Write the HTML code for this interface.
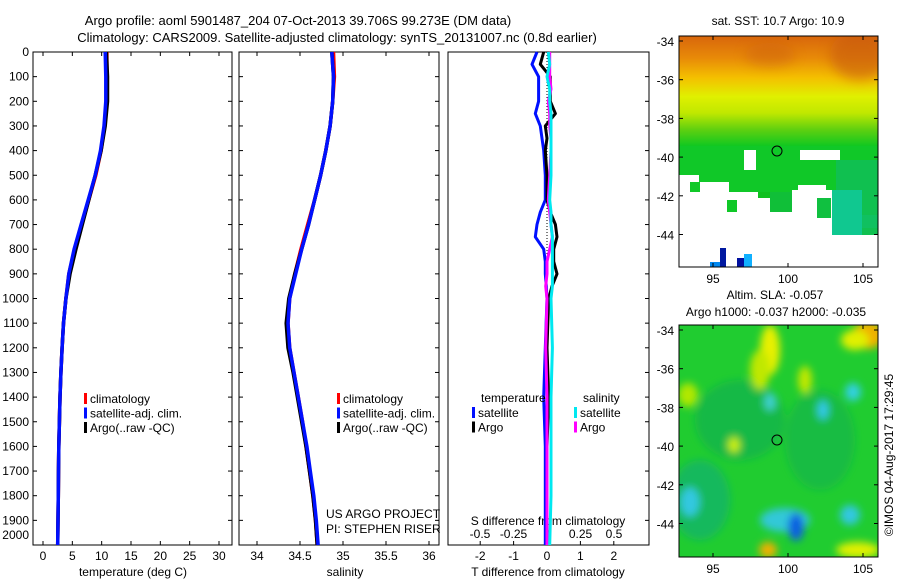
<!DOCTYPE html>
<html><head><meta charset="utf-8"><style>
html,body{margin:0;padding:0;background:#fff;}
svg{display:block;font-family:"Liberation Sans",sans-serif;font-size:12px;}
</style></head><body>
<svg id="c" width="900" height="580" viewBox="0 0 900 580">
<defs>
<filter id="bl" x="-50%" y="-50%" width="200%" height="200%"><feGaussianBlur stdDeviation="4"/></filter>
<filter id="bl2" x="-50%" y="-50%" width="200%" height="200%"><feGaussianBlur stdDeviation="6"/></filter>
<clipPath id="m1"><rect x="679" y="36" width="199" height="231"/></clipPath>
<clipPath id="m2"><rect x="679" y="325" width="199" height="232"/></clipPath>
<linearGradient id="g1" x1="0" y1="0" x2="0" y2="1"><stop offset="0" stop-color="#d8660c"/><stop offset="0.2" stop-color="#e88a08"/><stop offset="0.38" stop-color="#f4c000"/><stop offset="0.55" stop-color="#e0f000"/><stop offset="0.7" stop-color="#c0e800"/><stop offset="0.85" stop-color="#60d010"/><stop offset="1" stop-color="#10c820"/></linearGradient>
</defs>
<text x="298" y="25" text-anchor="middle" font-size="13">Argo profile: aoml 5901487_204 07-Oct-2013 39.706S 99.273E (DM data)</text>
<text x="337" y="42" text-anchor="middle" font-size="13">Climatology: CARS2009. Satellite-adjusted climatology: synTS_20131007.nc (0.8d earlier)</text>

<g id="p1"></g>
<g id="p2"></g>
<g id="p3"></g>

<g>
<text x="778" y="25" text-anchor="middle">sat. SST: 10.7  Argo: 10.9</text>
<g clip-path="url(#m1)">
<rect x="679" y="36" width="199" height="231" fill="#fff"/>
<rect x="679" y="36" width="199" height="110" fill="url(#g1)"/>
<ellipse cx="860" cy="55" rx="30" ry="25" fill="#c85a10" opacity="0.6" filter="url(#bl2)"/>
<ellipse cx="770" cy="55" rx="25" ry="12" fill="#c85a10" opacity="0.4" filter="url(#bl2)"/>
<rect x="679" y="168" width="199" height="24" fill="#10c828"/>
<rect x="679" y="146" width="199" height="22" fill="#10c828"/>
<rect x="679" y="175" width="20" height="28" fill="#fff"/>
<rect x="699" y="182" width="30" height="40" fill="#fff"/>
<rect x="729" y="194" width="20" height="30" fill="#fff"/>
<rect x="792" y="190" width="40" height="40" fill="#fff"/>
<rect x="798" y="185" width="28" height="8" fill="#fff"/>
<rect x="758" y="192" width="34" height="6" fill="#10c020"/>
<rect x="770" y="192" width="22" height="20" fill="#10bf38"/>
<rect x="727" y="200" width="10" height="12" fill="#10c828"/>
<rect x="817" y="198" width="14" height="20" fill="#10c040"/>
<rect x="836" y="160" width="42" height="75" fill="#10c050"/>
<rect x="832" y="190" width="30" height="45" fill="#10c890"/>
<rect x="862" y="215" width="16" height="13" fill="#10c060"/>
<rect x="679" y="194" width="20" height="20" fill="#fff"/>
<rect x="690" y="182" width="10" height="10" fill="#10c828"/>
<rect x="744" y="150" width="12" height="20" fill="#fff"/>
<rect x="800" y="150" width="40" height="10" fill="#fff"/>
<rect x="720" y="248" width="6" height="19" fill="#0018a0"/>
<rect x="710" y="262" width="10" height="5" fill="#0088f0"/>
<rect x="737" y="258" width="10" height="9" fill="#0010a0"/>
<rect x="744" y="254" width="8" height="13" fill="#10b0ff"/>
</g>
<rect x="679" y="36" width="199" height="231" fill="none" stroke="#000"/>
<circle cx="777" cy="151" r="5" fill="none" stroke="#000"/>
</g>

<g>
<text x="775" y="299" text-anchor="middle">Altim. SLA: -0.057</text>
<text x="776" y="316" text-anchor="middle">Argo h1000: -0.037 h2000: -0.035</text>
<g clip-path="url(#m2)">
<rect x="679" y="325" width="199" height="232" fill="#20cc30"/>
<g filter="url(#bl)">
<ellipse cx="740" cy="420" rx="45" ry="40" fill="#10b050" opacity="0.7"/>
<ellipse cx="820" cy="440" rx="35" ry="50" fill="#10b050" opacity="0.6"/>
<ellipse cx="700" cy="500" rx="30" ry="40" fill="#10b070" opacity="0.7"/>
<ellipse cx="770" cy="350" rx="10" ry="25" fill="#e8f000"/>
<ellipse cx="760" cy="370" rx="10" ry="20" fill="#c0e800"/>
<ellipse cx="688" cy="395" rx="10" ry="12" fill="#b0e800"/>
<ellipse cx="805" cy="380" rx="7" ry="14" fill="#c0e800"/>
<ellipse cx="868" cy="335" rx="16" ry="14" fill="#f0b000"/>
<ellipse cx="855" cy="340" rx="14" ry="10" fill="#e0f000"/>
<ellipse cx="734" cy="445" rx="6" ry="8" fill="#d0f000"/>
<ellipse cx="853" cy="392" rx="8" ry="9" fill="#30d0e0"/>
<ellipse cx="770" cy="402" rx="6" ry="9" fill="#40d0d0"/>
<ellipse cx="823" cy="410" rx="6" ry="10" fill="#30c8e8"/>
<ellipse cx="690" cy="502" rx="10" ry="15" fill="#30c8e0"/>
<ellipse cx="785" cy="520" rx="25" ry="12" fill="#30c8d8"/>
<ellipse cx="796" cy="527" rx="8" ry="14" fill="#1060e0"/>
<ellipse cx="850" cy="515" rx="10" ry="10" fill="#30c8e0"/>
<ellipse cx="768" cy="550" rx="9" ry="8" fill="#f0b000"/>
<ellipse cx="858" cy="550" rx="22" ry="8" fill="#e0f000"/>
</g>
</g>
<rect x="679" y="325" width="199" height="232" fill="none" stroke="#000"/>
<circle cx="777" cy="440" r="5" fill="none" stroke="#000"/>
<text transform="translate(893,455) rotate(-90)" text-anchor="middle">©IMOS 04-Aug-2017 17:29:45</text>
</g>
<g id="maxes"></g>
</svg>
<script>
const depths=[0,100,200,300,400,500,600,700,800,900,1000,1100,1200,1300,1400,1500,1600,1700,1800,1900,2000];
const tempArgo=[10.8,11.0,11.0,10.6,9.9,8.9,7.8,6.7,5.6,4.6,3.9,3.5,3.25,3.05,2.9,2.8,2.7,2.65,2.6,2.55,2.5];
const tempClim=[10.9,10.9,10.9,10.5,9.9,9.0,7.8,6.6,5.4,4.4,3.9,3.5,3.25,3.05,2.9,2.8,2.7,2.65,2.6,2.55,2.5];
const tempSat=[10.6,10.7,10.7,10.4,9.8,8.9,7.7,6.5,5.3,4.4,3.9,3.5,3.25,3.05,2.9,2.8,2.7,2.65,2.6,2.55,2.5];
const salArgo=[34.87,34.89,34.88,34.85,34.8,34.74,34.67,34.6,34.52,34.44,34.37,34.34,34.36,34.42,34.47,34.52,34.57,34.61,34.65,34.68,34.7];
const salClim=[34.89,34.9,34.88,34.85,34.8,34.74,34.67,34.59,34.51,34.44,34.38,34.36,34.38,34.43,34.48,34.53,34.57,34.61,34.65,34.68,34.7];
const salSat=[34.87,34.89,34.88,34.85,34.8,34.74,34.67,34.6,34.52,34.45,34.38,34.36,34.38,34.43,34.48,34.53,34.58,34.62,34.66,34.69,34.71];
const diffDepths=[0,50,100,150,200,250,300,350,400,500,600,650,700,750,800,850,900,950,1000,1200,1400,1600,1800,2000];
const tDiffSat=[-0.3,-0.45,-0.25,-0.25,-0.25,-0.35,-0.2,-0.15,-0.1,-0.05,-0.05,-0.2,-0.3,-0.35,-0.1,-0.05,-0.05,-0.02,0,-0.05,-0.1,-0.05,-0.05,-0.05];
const tDiffArgo=[-0.1,-0.2,0.1,0.1,0.1,0.25,-0.05,0,-0.05,0,0,0.1,0.25,0.3,0.2,0.2,0.3,0.15,0.05,0,0.05,0,0,0];
const sDiffSat=[0.01,0.02,0,0.02,0.02,0.03,0.03,0.03,0.03,0.03,0.02,0.03,0.03,0.04,0.04,0.04,0.04,0.04,0.03,0.04,0.03,0.03,0.03,0.02];
const sDiffArgo=[0.02,0.02,0.02,0.03,0.01,0.02,0.02,0.03,0.03,0.02,0.01,0.02,0.03,0.04,0.02,0.0,0.0,-0.01,0,-0.01,0,0,0,0];
const depthTicks=[0,100,200,300,400,500,600,700,800,900,1000,1100,1200,1300,1400,1500,1600,1700,1800,1900,2000];
const tempTicks=[0,5,10,15,20,25,30];
const salTicks=[34,34.5,35,35.5,36];
const tDiffTicks=[-2,-1,0,1,2];
const sDiffTicks=[-0.5,-0.25,0,0.25,0.5];
const sDiffTickLabels=["-0.5","-0.25","0","0.25","0.5"];

const NS="http://www.w3.org/2000/svg";
const TOP=52,BOT=545;
function yD(d){return TOP+(d/2000)*(BOT-TOP);}
function xT(v){return 43+v*(219-43)/30;}
function xS(v){return 257+(v-34)*86;}
function xTD(v){return 547+v*33.4;}
function xSD(v){return 547+v*134;}
function mk(tag,attrs,parent,text){const e=document.createElementNS(NS,tag);for(const k in attrs)e.setAttribute(k,attrs[k]);if(text!==undefined)e.textContent=text;parent.appendChild(e);return e;}
function stepPath(xs,ds,fx){let d="";for(let i=0;i<xs.length;i++){d+=(i?"L":"M")+fx(xs[i]).toFixed(1)+","+yD(ds[i]).toFixed(1);}return d;}

function frame(g,x0,x1,ticksLeft,ticksRight,name){
  const r=mk("rect",{x:x0,y:TOP,width:x1-x0,height:BOT-TOP,fill:"none",stroke:"#000"},g);
  
  
  depthTicks.forEach(d=>{
    if(ticksLeft) mk("line",{x1:x0,x2:x0+4,y1:yD(d),y2:yD(d),stroke:"#000"},g);
    if(ticksRight) mk("line",{x1:x1-4,x2:x1,y1:yD(d),y2:yD(d),stroke:"#000"},g);
  });
}
function series(g,vals,ds,fx,color,w,name){
  const p=mk("path",{d:stepPath(vals,ds,fx),fill:"none",stroke:color,"stroke-width":w,"stroke-linejoin":"round"},g);
  
  
}
function legend(g,x,y,items,name){
  items.forEach((it,i)=>{
    const r=mk("rect",{x:x,y:y+i*14.5-6,width:3,height:11,fill:it[1]},g);
    
    
    const t=mk("text",{x:x+6,y:y+i*14.5+4},g,it[0]);
    
    
  });
}
const p1=document.getElementById("p1");
frame(p1,33,232,true,true,"temperature");
depthTicks.forEach(d=>{
  const lbl=d===2000?yD(d)-10:yD(d);
  const t=mk("text",{x:29,y:lbl+4,"text-anchor":"end"},p1,String(d));
  
  
});
tempTicks.forEach(v=>{
  mk("line",{x1:xT(v),x2:xT(v),y1:BOT,y2:BOT-4,stroke:"#000"},p1);
  mk("line",{x1:xT(v),x2:xT(v),y1:TOP,y2:TOP+4,stroke:"#000"},p1);
  const t=mk("text",{x:xT(v),y:560,"text-anchor":"middle"},p1,String(v));
  
  
});
const xl1=mk("text",{x:133,y:576,"text-anchor":"middle"},p1,"temperature (deg C)");


series(p1,tempClim,depths,xT,"#f00",3.5,"temperature-climatology-line");
series(p1,tempArgo,depths,xT,"#000",3.5,"temperature-argo-line");
series(p1,tempSat,depths,xT,"#0010ff",3.5,"temperature-satellite-line");
legend(p1,84,399,[["climatology","#f00"],["satellite-adj. clim.","#0010ff"],["Argo(..raw -QC)","#000"]],"temperature-legend");

const p2=document.getElementById("p2");
frame(p2,239,439,true,true,"salinity");
salTicks.forEach(v=>{
  mk("line",{x1:xS(v),x2:xS(v),y1:BOT,y2:BOT-4,stroke:"#000"},p2);
  mk("line",{x1:xS(v),x2:xS(v),y1:TOP,y2:TOP+4,stroke:"#000"},p2);
  const t=mk("text",{x:xS(v),y:560,"text-anchor":"middle"},p2,String(v));
  
  
});
const xl2=mk("text",{x:345,y:576,"text-anchor":"middle"},p2,"salinity");


series(p2,salClim,depths,xS,"#f00",3.5,"salinity-climatology-line");
series(p2,salArgo,depths,xS,"#000",3.5,"salinity-argo-line");
series(p2,salSat,depths,xS,"#0010ff",3.5,"salinity-satellite-line");
legend(p2,337,399,[["climatology","#f00"],["satellite-adj. clim.","#0010ff"],["Argo(..raw -QC)","#000"]],"salinity-legend");
const c1=mk("text",{x:326,y:518},p2,"US ARGO PROJECT");


const c2=mk("text",{x:326,y:533},p2,"PI: STEPHEN RISER");



const p3=document.getElementById("p3");
frame(p3,448,649,false,true,"difference");
mk("line",{x1:547,x2:547,y1:TOP,y2:BOT,stroke:"#000","stroke-dasharray":"1,2"},p3);
tDiffTicks.forEach(v=>{
  mk("line",{x1:xTD(v),x2:xTD(v),y1:BOT,y2:BOT-4,stroke:"#000"},p3);
  const t=mk("text",{x:xTD(v),y:560,"text-anchor":"middle"},p3,String(v));
  
  
});
sDiffTicks.forEach((v,i)=>{
  const t=mk("text",{x:xSD(v),y:538,"text-anchor":"middle"},p3,sDiffTickLabels[i]);
  
  
});
const xl3=mk("text",{x:548,y:576,"text-anchor":"middle"},p3,"T difference from climatology");


const xl4=mk("text",{x:548,y:525,"text-anchor":"middle"},p3,"S difference from climatology");


series(p3,tDiffSat,diffDepths,xTD,"#0010ff",3,"t-diff-satellite-line");
series(p3,tDiffArgo,diffDepths,xTD,"#000",3,"t-diff-argo-line");
series(p3,sDiffArgo,diffDepths,xSD,"#ff00ff",3,"s-diff-argo-line");
series(p3,sDiffSat,diffDepths,xSD,"#00e8f0",3,"s-diff-satellite-line");
const lt=mk("text",{x:481,y:402},p3,"temperature");


const ls=mk("text",{x:583,y:402},p3,"salinity");


legend(p3,472,413,[["satellite","#0010ff"],["Argo","#000"]],"diff-legend-temperature");
legend(p3,574,413,[["satellite","#00e8f0"],["Argo","#ff00ff"]],"diff-legend-salinity");

const ma=document.getElementById("maxes");
const lats=[-34,-36,-38,-40,-42,-44];
const lons=[95,100,105];
function mapAxes(top,bottom,lat0y,name){
  lats.forEach(la=>{
    const y=lat0y+(-34-la)*19.35;
    mk("line",{x1:679,x2:683,y1:y,y2:y,stroke:"#000"},ma);
    mk("line",{x1:874,x2:878,y1:y,y2:y,stroke:"#000"},ma);
    const t=mk("text",{x:674,y:y+5,"text-anchor":"end"},ma,String(la));
    
    
  });
  lons.forEach(lo=>{
    const x=713+(lo-95)*15;
    mk("line",{x1:x,x2:x,y1:bottom,y2:bottom-4,stroke:"#000"},ma);
    mk("line",{x1:x,x2:x,y1:top,y2:top+4,stroke:"#000"},ma);
    const t=mk("text",{x:x,y:bottom+16,"text-anchor":"middle"},ma,String(lo));
    
    
  });
}
mapAxes(36,267,41,"sst-map");
mapAxes(325,557,330,"sla-map");
</script>
</body></html>
